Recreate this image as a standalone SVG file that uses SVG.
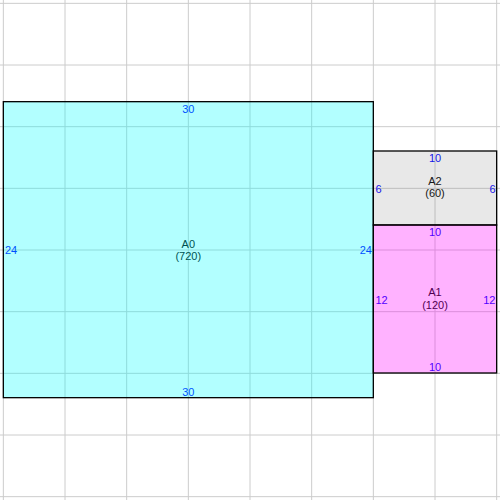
<svg xmlns="http://www.w3.org/2000/svg" width="500" height="500" viewBox="0 0 500 500">
<style>
.grid line{stroke:#cccccc;stroke-width:1}
.dim{font-family:"Liberation Sans",Arial,sans-serif;font-size:11px;fill:#0000ff}
.lbl{font-family:"Liberation Sans",Arial,sans-serif;font-size:11px;fill:#000000;text-anchor:middle}
.box{stroke:#000000;stroke-width:1.3}
</style>
<rect x="0" y="0" width="500" height="500" fill="#ffffff"/>
<g class="grid" id="grid">
<line x1="3.33" y1="0" x2="3.33" y2="500"/>
<line x1="65" y1="0" x2="65" y2="500"/>
<line x1="126.67" y1="0" x2="126.67" y2="500"/>
<line x1="188.33" y1="0" x2="188.33" y2="500"/>
<line x1="250" y1="0" x2="250" y2="500"/>
<line x1="311.67" y1="0" x2="311.67" y2="500"/>
<line x1="373.33" y1="0" x2="373.33" y2="500"/>
<line x1="435" y1="0" x2="435" y2="500"/>
<line x1="496.67" y1="0" x2="496.67" y2="500"/>
<line x1="0" y1="3.33" x2="500" y2="3.33"/>
<line x1="0" y1="65" x2="500" y2="65"/>
<line x1="0" y1="126.67" x2="500" y2="126.67"/>
<line x1="0" y1="188.33" x2="500" y2="188.33"/>
<line x1="0" y1="250" x2="500" y2="250"/>
<line x1="0" y1="311.67" x2="500" y2="311.67"/>
<line x1="0" y1="373.33" x2="500" y2="373.33"/>
<line x1="0" y1="435" x2="500" y2="435"/>
<line x1="0" y1="496.67" x2="500" y2="496.67"/>
</g>
<g id="A0">
<text class="dim" x="188.3" y="113" text-anchor="middle">30</text>
<text class="dim" x="188.3" y="395.5" text-anchor="middle">30</text>
<text class="dim" x="5" y="254">24</text>
<text class="dim" x="372" y="254" text-anchor="end">24</text>
<text class="lbl" x="188.3" y="247.5">A0</text>
<text class="lbl" x="188.3" y="259.5">(720)</text>
<rect class="box" x="3.33" y="101.67" width="370" height="296" fill="#00ffff" fill-opacity="0.3"/>
</g>
<g id="A2">
<text class="dim" x="435" y="162" text-anchor="middle">10</text>
<text class="dim" x="375.5" y="193">6</text>
<text class="dim" x="495.5" y="193" text-anchor="end">6</text>
<text class="lbl" x="435" y="184.5">A2</text>
<text class="lbl" x="435" y="196.5">(60)</text>
<rect class="box" x="373.33" y="151" width="123.34" height="74" fill="#808080" fill-opacity="0.18"/>
</g>
<g id="A1">
<text class="dim" x="435" y="236" text-anchor="middle">10</text>
<text class="dim" x="435" y="371" text-anchor="middle">10</text>
<text class="dim" x="375.5" y="304">12</text>
<text class="dim" x="495.5" y="304" text-anchor="end">12</text>
<text class="lbl" x="435" y="296">A1</text>
<text class="lbl" x="435" y="308.5">(120)</text>
<rect class="box" x="373.33" y="225" width="123.34" height="148" fill="#ff00ff" fill-opacity="0.3"/>
</g>
<g id="connectors"></g>
</svg>
